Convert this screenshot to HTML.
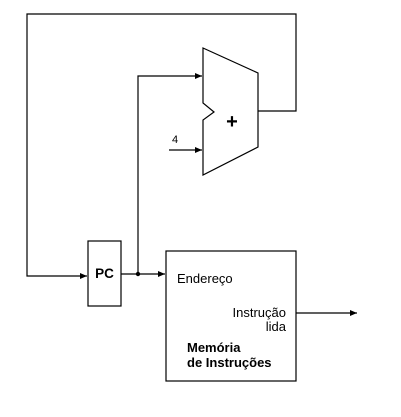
<!DOCTYPE html>
<html><head><style>body{margin:0;background:#fff}</style></head><body>
<svg width="401" height="412" xmlns="http://www.w3.org/2000/svg" font-family="Liberation Sans, sans-serif" font-size="13">
<defs><marker id="a" markerWidth="8" markerHeight="8" refX="7" refY="4" orient="auto" markerUnits="userSpaceOnUse"><path d="M0,1 L7,4 L0,7 z" fill="#000"/></marker></defs>
<g stroke="#000" stroke-width="1.2" fill="none">
<path d="M203,48 L258,73 L258,147 L203,175 L203,120 L214,112 L203,103 Z" fill="#fff"/>
<path d="M258,111 H296 V14 H27 V276 H87" marker-end="url(#a)"/>
<path d="M138,274 V76 H202" marker-end="url(#a)"/>
<path d="M169,150 H202" marker-end="url(#a)"/>
<rect x="88" y="241" width="33" height="65"/>
<path d="M121,274 H165" marker-end="url(#a)"/>
<rect x="166" y="251" width="130" height="130"/>
<path d="M296,313 H357" marker-end="url(#a)"/>
</g>
<circle cx="138" cy="274" r="2.2" fill="#000"/>
<text x="232" y="128" font-size="20" font-weight="bold" text-anchor="middle">+</text>
<text x="172" y="143" font-size="11">4</text>
<text x="104.5" y="278" font-weight="bold" text-anchor="middle" font-size="13.5">PC</text>
<text x="177" y="283">Endereço</text>
<text x="286" y="317" text-anchor="end">Instrução</text>
<text x="286" y="331" text-anchor="end">lida</text>
<text x="187" y="352" font-weight="bold">Memória</text>
<text x="187" y="367" font-weight="bold">de Instruções</text>
</svg>
</body></html>
